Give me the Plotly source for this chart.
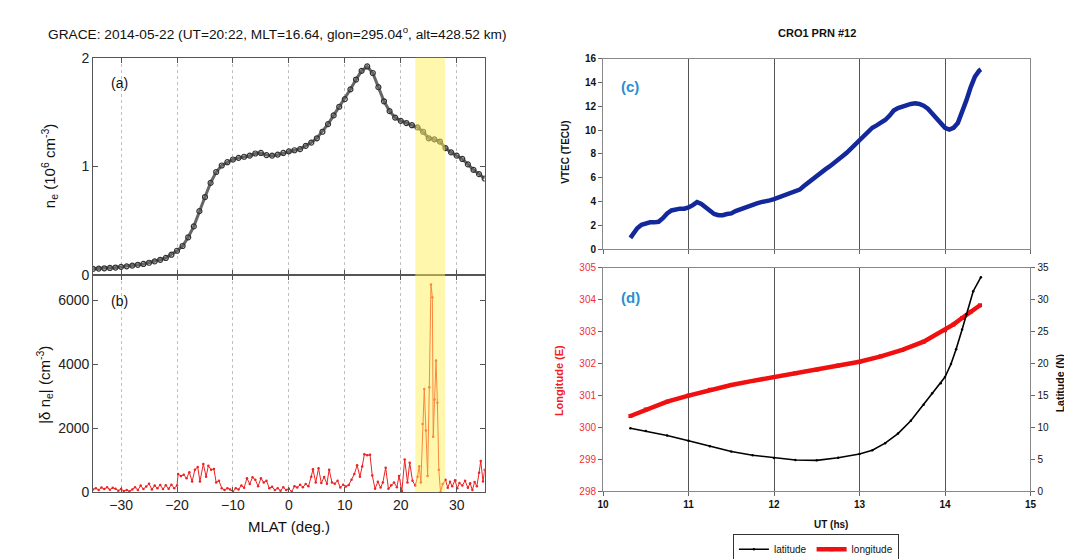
import plotly.graph_objects as go

W, H = 1072, 559
def fx(px): return px / W
def fy(py): return 1 - py / H

# ---------------- data ----------------
# (a) electron density vs MLAT
mlat_a = list(range(-35, 36))
ne_a = [0.06, 0.062, 0.065, 0.068, 0.072, 0.078, 0.083, 0.09, 0.097, 0.105,
        0.116, 0.128, 0.143, 0.16, 0.19, 0.226, 0.27, 0.35, 0.45, 0.59,
        0.72, 0.85, 0.95, 1.01, 1.04, 1.065, 1.08, 1.09, 1.10, 1.12,
        1.125, 1.105, 1.10, 1.11, 1.125, 1.14, 1.15, 1.16, 1.19, 1.22,
        1.26, 1.32, 1.39, 1.47, 1.55, 1.62, 1.71, 1.80, 1.88, 1.92,
        1.86, 1.73, 1.60, 1.51, 1.45, 1.42, 1.40, 1.38, 1.36, 1.32,
        1.26, 1.25, 1.23, 1.17, 1.13, 1.10, 1.07, 1.02, 0.97, 0.93, 0.89]

# (b) |delta ne| vs MLAT
mlat_b = [-35, -34.5, -34, -33.5, -33, -32.5, -32, -31.5, -31, -30.5, -30, -29.5, -29, -28.5,
          -28, -27.5, -27, -26.5, -26, -25.5, -25, -24.5, -24, -23.5, -23, -22.5, -22, -21.5,
          -21, -20.5, -20, -19.8, -19.3, -18.8, -18.3, -17.8, -17.3, -16.8, -16.3, -15.9,
          -15.3, -14.8, -14.4, -13.9, -13.4, -13, -12.5, -12, -11.5, -11, -10.5, -10, -9.5,
          -9, -8.5, -8, -7.5, -7, -6.5, -6, -5.5, -5, -4.5, -4, -3.5, -3, -2.5, -2, -1.5,
          -1, -0.5, 0, 0.5, 1, 1.5, 2, 2.5, 3, 3.5, 4, 4.3, 4.8, 5.3, 5.8, 6.3, 6.8, 7.2,
          7.7, 8.2, 8.7, 9.2, 9.7, 10.2, 10.7, 11.2, 11.7, 12.2, 12.7, 13.1, 13.5, 14, 14.5,
          14.9, 15.4, 15.9, 16.4, 16.8, 17.3, 17.8, 18.3, 18.8, 19.3, 19.7, 20.2, 20.7, 21.2,
          21.6, 22.1, 22.6, 23.0, 23.3, 23.6, 23.9, 24.2, 24.5, 24.8, 25.1, 25.4, 25.65, 25.8,
          26.05, 26.3, 26.55, 26.8, 27.1, 27.5, 28, 28.4, 28.8, 29.2, 29.7, 30.1, 30.5, 31,
          31.5, 32, 32.4, 32.8, 33.2, 33.6, 34, 34.3, 34.7, 35]
dne_b = [80, 120, 60, 140, 90, 150, 70, 130, 100, 40, 90, 30, 60, 20,
         80, 150, 60, 200, 90, 170, 260, 80, 200, 120, 220, 90, 210, 100,
         230, 120, 200, 560, 500, 540, 430, 620, 330, 700, 780, 330,
         880, 480, 820, 700, 720, 300, 350, 120, 60, 120, 80, 10, 120,
         80, 200, 130, 430, 250, 460, 380, 180, 430, 300, 350, 120, 160, 60, 120, 40,
         150, 60, 100, 10, 180, 140, 230, 150, 250, 180, 480, 710, 300, 740, 280, 470, 260, 700,
         300, 260, 350, 140, 230, 170, 220, 380, 560, 840, 480, 800, 1180, 1150, 1170,
         520, 100, 320, 140, 300, 760, 100, 210, 300, 150, 500, 20, 1020, 300,
         920, 350, 200, 480, 810, 300, 2130, 3230, 1930, 500, 3280, 6500, 6100, 1730,
         2900, 4120, 2800, 700, 0, 250, 380, 130, 320, 180, 370, 120, 280, 200,
         350, 130, 270, 60, 310, 180, 600, 970, 330, 700]

# (c) VTEC vs UT
ut_c = [10.32, 10.36, 10.40, 10.45, 10.50, 10.55, 10.60, 10.65, 10.70, 10.75, 10.80, 10.85,
        10.90, 10.95, 11.00, 11.05, 11.10, 11.15, 11.20, 11.25, 11.30, 11.35, 11.40, 11.45,
        11.50, 11.55, 11.60, 11.65, 11.70, 11.75, 11.80, 11.85, 11.90, 11.95, 12.00, 12.05,
        12.10, 12.15, 12.20, 12.25, 12.30, 12.35, 12.40, 12.45, 12.50, 12.55, 12.60, 12.65,
        12.70, 12.75, 12.80, 12.85, 12.90, 12.95, 13.00, 13.05, 13.10, 13.15, 13.20, 13.25,
        13.30, 13.35, 13.40, 13.45, 13.50, 13.55, 13.60, 13.65, 13.70, 13.75, 13.80, 13.85,
        13.90, 13.95, 14.00, 14.05, 14.10, 14.15, 14.20, 14.25, 14.30, 14.35, 14.40, 14.42]
vtec_c = [0.95, 1.4, 1.75, 2.05, 2.2, 2.25, 2.25, 2.3, 2.6, 3.0, 3.25, 3.35,
          3.4, 3.4, 3.5, 3.7, 3.95, 3.8, 3.5, 3.2, 2.95, 2.85, 2.85, 2.95,
          3.0, 3.2, 3.35, 3.45, 3.6, 3.7, 3.85, 3.95, 4.0, 4.1, 4.2, 4.35,
          4.45, 4.6, 4.75, 4.85, 5.0, 5.3, 5.6, 5.85, 6.1, 6.4, 6.7, 6.95,
          7.2, 7.5, 7.8, 8.1, 8.45, 8.8, 9.1, 9.5, 9.9, 10.2, 10.4, 10.6,
          10.85, 11.2, 11.65, 11.85, 12.0, 12.1, 12.2, 12.25, 12.2, 12.05, 11.8, 11.4,
          11.0, 10.55, 10.2, 10.05, 10.2, 10.6, 11.5, 12.5, 13.6, 14.5, 15.0, 15.1]

# (d) IPP longitude / latitude vs UT
ut_lon = [10.32, 10.5, 10.75, 11.0, 11.25, 11.5, 11.75, 12.0, 12.25, 12.5, 12.75, 13.0,
          13.25, 13.5, 13.75, 14.0, 14.1, 14.2, 14.3, 14.41]
lon_d = [300.35, 300.55, 300.8, 300.99, 301.17, 301.32, 301.45, 301.57, 301.69, 301.8,
         301.93, 302.05, 302.22, 302.42, 302.68, 303.04, 303.22, 303.42, 303.62, 303.82]
ut_lat = [10.32, 10.5, 10.75, 11.0, 11.25, 11.5, 11.75, 12.0, 12.25, 12.5, 12.75, 13.0,
          13.15, 13.3, 13.45, 13.6, 13.75, 13.85, 13.95, 14.0, 14.07, 14.13, 14.2, 14.25,
          14.33, 14.42]
lat_d = [9.84, 9.4, 8.7, 7.86, 7.0, 6.2, 5.6, 5.17, 4.85, 4.8, 5.2, 5.8,
         6.4, 7.5, 9.0, 11.0, 13.5, 15.3, 16.9, 17.85, 19.9, 22.2, 25.3, 27.7,
         31.3, 33.5]

xticks_left = [-30, -20, -10, 0, 10, 20, 30]
band = [22.6, 27.9]

# ---------------- figure ----------------
fig = go.Figure()

fig.add_trace(go.Scatter(x=mlat_a, y=ne_a, mode="lines+markers", xaxis="x", yaxis="y",
                         line=dict(color="#666666", width=3),
                         marker=dict(symbol="circle-open", size=5, color="#333333",
                                     line=dict(width=1.2)),
                         showlegend=False))
fig.add_trace(go.Scatter(x=mlat_b, y=dne_b, mode="lines+markers", xaxis="x2", yaxis="y2",
                         line=dict(color="#ee2222", width=1),
                         marker=dict(symbol="circle", size=2.5, color="#ee2222"),
                         showlegend=False))
fig.add_trace(go.Scatter(x=ut_c, y=vtec_c, mode="lines", xaxis="x3", yaxis="y3",
                         line=dict(color="#13289a", width=4.5),
                         showlegend=False))
fig.add_trace(go.Scatter(x=ut_lat, y=lat_d, mode="lines+markers", xaxis="x4", yaxis="y5",
                         name="latitude",
                         line=dict(color="black", width=1.6),
                         marker=dict(symbol="circle", size=2.5, color="black")))
fig.add_trace(go.Scatter(x=ut_lon, y=lon_d, mode="lines+markers", xaxis="x4", yaxis="y4",
                         name="longitude",
                         line=dict(color="#f01010", width=4.5),
                         marker=dict(symbol="square", size=4, color="#f01010")))

font_l = "Liberation Sans, Arial, sans-serif"
left_x = [fx(80), fx(476)]
right_x = [fx(595.7), fx(1028)]

common_left = dict(showline=True, mirror="ticks", linecolor="#555555", linewidth=1,
                   ticks="inside", ticklen=5, tickcolor="#555555",
                   tickfont=dict(family=font_l, size=14, color="#222222"), zeroline=False)
common_right = dict(showline=True, mirror=True, linecolor="#888888", linewidth=1,
                    ticks="outside", ticklen=4, tickcolor="#666666", zeroline=False,
                    tickfont=dict(family=font_l, size=10, color="#111111", weight="bold"))

fig.update_layout(
    width=W, height=H, margin=dict(l=0, r=0, t=0, b=0),
    paper_bgcolor="white", plot_bgcolor="white",
    xaxis=dict(domain=left_x, anchor="y", range=[-35, 35], tickvals=xticks_left,
               showticklabels=False, showgrid=True, gridcolor="#c0c0c0", griddash="dot",
               gridwidth=1, **common_left),
    yaxis=dict(domain=[fy(267), fy(43)], anchor="x", range=[0, 2], tickvals=[0, 1, 2],
               showgrid=False, **common_left),
    xaxis2=dict(domain=left_x, anchor="y2", range=[-35, 35], tickvals=xticks_left,
                showgrid=True, gridcolor="#c0c0c0", griddash="dot", gridwidth=1, **common_left),
    yaxis2=dict(domain=[fy(490), fy(267)], anchor="x2", range=[0, 6790],
                tickvals=[0, 2000, 4000, 6000], showgrid=False, **common_left),
    xaxis3=dict(domain=right_x, anchor="y3", range=[10, 15], dtick=1, showticklabels=False,
                showgrid=True, gridcolor="#555555", gridwidth=1, **common_right),
    yaxis3=dict(domain=[fy(240), fy(44)], anchor="x3", range=[0, 16], dtick=2,
                showgrid=False, **common_right),
    xaxis4=dict(domain=right_x, anchor="y4", range=[10, 15], dtick=1,
                showgrid=True, gridcolor="#555555", gridwidth=1, **common_right),
    yaxis4=dict(domain=[fy(489), fy(259)], anchor="x4", range=[298, 305], dtick=1,
                showgrid=False, showline=True, mirror=True, linecolor="#888888",
                ticks="outside", ticklen=4, tickcolor="#666666", zeroline=False,
                tickfont=dict(family=font_l, size=10, color="#f03030")),
    yaxis5=dict(overlaying="y4", anchor="x4", side="right", range=[0, 35], dtick=5,
                showgrid=False, showline=True, linecolor="#888888",
                ticks="outside", ticklen=4, tickcolor="#666666", zeroline=False,
                tickfont=dict(family=font_l, size=10, color="#111111")),
    legend=dict(orientation="h", x=fx(811), y=fy(549), xanchor="center", yanchor="middle",
                bordercolor="#333333", borderwidth=1, bgcolor="white",
                font=dict(family=font_l, size=10, color="#111111"),
                itemwidth=30, tracegroupgap=0),
)

# yellow band
for xr, yr in (("x", "y"), ("x2", "y2")):
    fig.add_shape(type="rect", xref=xr, yref=yr + " domain", x0=band[0], x1=band[1],
                  y0=0, y1=1, fillcolor="rgb(255,240,90)", opacity=0.5,
                  line=dict(width=0), layer="above")

ann = []
def A(x, y, text, size, color="#111111", angle=0, bold=False, family=font_l):
    ann.append(dict(x=fx(x), y=fy(y), xref="paper", yref="paper", text=text,
                    showarrow=False, textangle=angle, xanchor="center", yanchor="middle",
                    font=dict(family=family, size=size, color=color,
                              weight="bold" if bold else "normal")))

A(266, 17, "GRACE: 2014-05-22 (UT=20:22, MLT=16.64, glon=295.04<sup>o</sup>, alt=428.52 km)", 13.7)
A(107, 69, "(a)", 14)
A(107, 293, "(b)", 14)
A(36, 155, "n<sub>e</sub> (10<sup>6</sup> cm<sup>-3</sup>)", 15, angle=-90)
A(30, 380, "|δ n<sub>e</sub>| (cm<sup>-3</sup>)", 15, angle=-90)
A(278, 526, "MLAT (deg.)", 15)

A(812, 18, "CRO1 PRN #12", 11, bold=True)
A(623, 73, "(c)", 15, color="#2a8fd0", bold=True)
A(623, 290, "(d)", 15, color="#2a8fd0", bold=True)
A(558, 140, "VTEC (TECU)", 10, angle=-90, bold=True)
A(551, 375, "Longitude (E)", 11, color="#f02020", angle=-90, bold=True)
A(1058, 378, "Latitude (N)", 10.5, angle=-90, bold=True)
A(826, 523, "UT (hs)", 10, bold=True)

fig.update_layout(annotations=ann)
fig.write_html("out.html")
